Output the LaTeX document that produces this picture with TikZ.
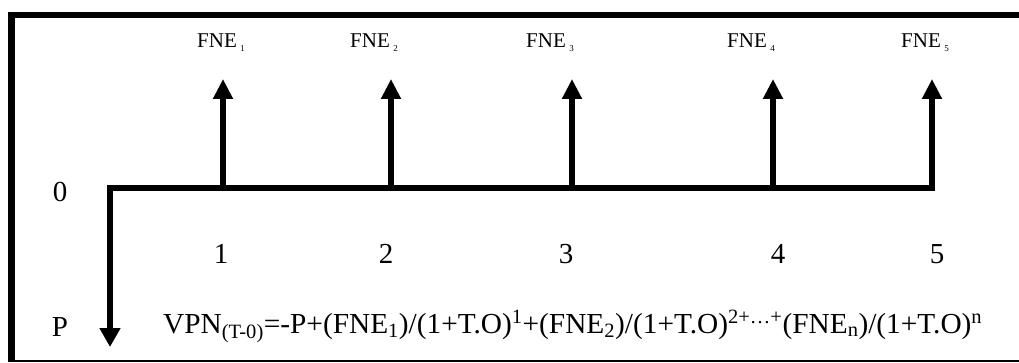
\documentclass[tikz,border=0pt]{standalone}
\usepackage{graphicx}
\usepackage{fontspec}
\setmainfont{Liberation Serif}
\usetikzlibrary{arrows.meta}
\begin{document}
\begin{tikzpicture}[x=1pt,y=-1pt,
  frame/.style={line width=6.5pt, line join=miter},
  baseline rule/.style={line width=2pt},
  axis/.style={line width=6pt, line join=miter},
  uparrow/.style={line width=6pt, -{Triangle[width=19pt,length=20pt]}},
  downarrow/.style={-{Triangle[width=20pt,length=19pt]}},
  lbl/.style={anchor=base, inner sep=0pt, font=\fontsize{29}{33}\selectfont},
  fne/.style={anchor=base, inner sep=0pt, font=\fontsize{21}{25}\selectfont},
]
\useasboundingbox (0,0) rectangle (1019,363);
% frame
\coordinate (fbl) at (11.5,362);
\coordinate (ftl) at (11.5,15);
\coordinate (ftr) at (1020,15);
\draw[frame] (fbl) -- (ftl) -- (ftr);
\coordinate (bl) at (8,361);
\coordinate (br) at (1019,361);
\draw[baseline rule] (bl) -- (br);
% time line
\coordinate (t0) at (110,188);
\coordinate (tend) at (935,188);
\coordinate (pend) at (110,347);
\draw[axis, downarrow] (tend) -- (t0) -- (pend);
% ticks with arrows
\foreach \i/\x in {1/223, 2/391, 3/572, 4/773, 5/932}{
  \coordinate (t\i) at (\x,188);
  \coordinate (a\i) at (\x,79);
  \draw[uparrow] (t\i) -- (a\i);
}
% FNE labels
\node[fne] (f1) at (221,48) {FNE\,\raisebox{-4pt}{\fontsize{9}{10}\selectfont 1}};
\node[fne] (f2) at (374,48) {FNE\,\raisebox{-4pt}{\fontsize{9}{10}\selectfont 2}};
\node[fne] (f3) at (550,48) {FNE\,\raisebox{-4pt}{\fontsize{9}{10}\selectfont 3}};
\node[fne] (f4) at (751,48) {FNE\,\raisebox{-4pt}{\fontsize{9}{10}\selectfont 4}};
\node[fne] (f5) at (925,48) {FNE\,\raisebox{-4pt}{\fontsize{9}{10}\selectfont 5}};
% period numbers
\node[lbl] (n0) at (60,202) {0};
\node[lbl] (d1) at (221,263) {1};
\node[lbl] (d2) at (386,263) {2};
\node[lbl] (d3) at (566,263) {3};
\node[lbl] (d4) at (778,263) {4};
\node[lbl] (d5) at (937,263) {5};
\node[lbl] (nP) at (60,336) {P};
% formula
\node[lbl, anchor=base west] (formula) at (163,333) {\resizebox{819pt}{\height}{VPN\textsubscript{(T-0)}=-P+(FNE\textsubscript{1})/(1+T.O)\textsuperscript{1}+(FNE\textsubscript{2})/(1+T.O)\textsuperscript{2+…+}(FNE\textsubscript{n})/(1+T.O)\textsuperscript{n}}};
\end{tikzpicture}
\end{document}
